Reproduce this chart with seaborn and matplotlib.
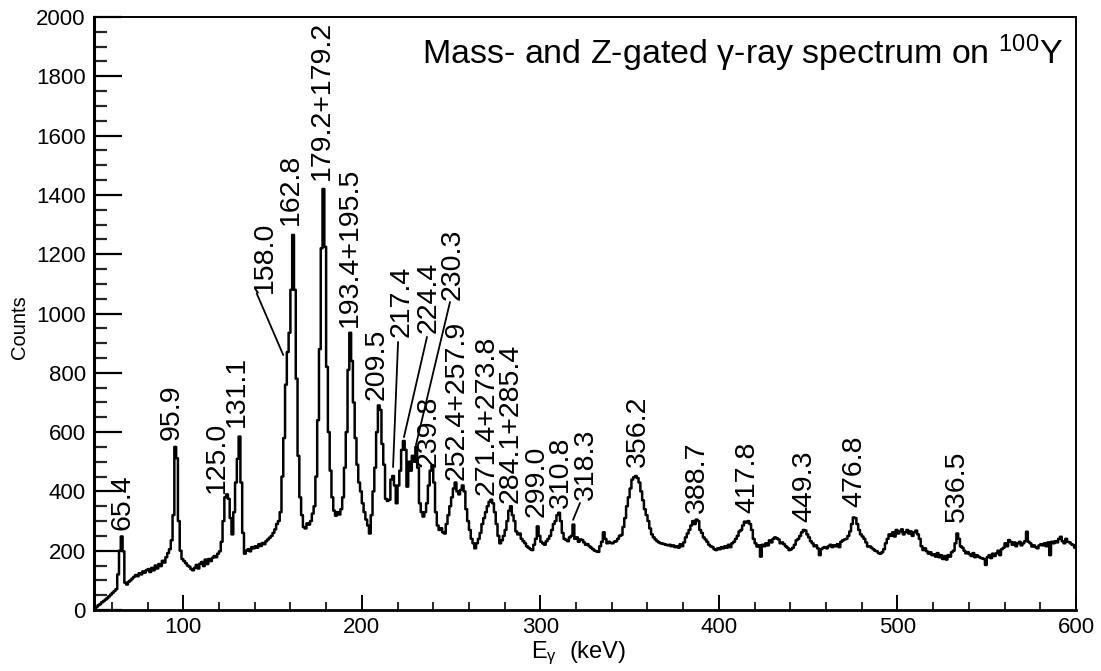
import numpy as np
import pandas as pd
import matplotlib
matplotlib.use("Agg")
import matplotlib.pyplot as plt
import seaborn as sns
from matplotlib.ticker import MultipleLocator

# ---------------- data (1 keV bins starting at 50 keV) ----------------
E_START = 50.0
BIN_WIDTH = 1.0
counts = [
    4, 10, 16, 20, 26, 30, 35, 40, 46, 52,            # 50
    58, 64, 70, 120, 200, 248, 198, 92, 86, 95,       # 60
    100, 106, 112, 118, 114, 124, 120, 130, 126, 134, # 70
    138, 128, 142, 134, 150, 140, 155, 148, 166, 160, # 80
    178, 192, 205, 235, 320, 550, 512, 300, 200, 172, # 90
    165, 158, 150, 146, 138, 134, 142, 152, 140, 156, # 100
    162, 148, 170, 155, 172, 165, 176, 182, 178, 190, # 110
    198, 230, 300, 380, 390, 375, 310, 255, 330, 430, # 120
    510, 585, 430, 260, 190, 200, 205, 198, 212, 208, # 130
    215, 210, 222, 216, 226, 222, 232, 238, 244, 250, # 140
    260, 272, 290, 300, 330, 450, 580, 760, 870, 935, # 150
    1080, 1265, 1080, 780, 520, 380, 320, 280, 275, 292,  # 160
    288, 300, 325, 350, 450, 640, 880, 1220, 1420, 1225,  # 170
    820, 600, 470, 380, 335, 318, 330, 322, 340, 380, # 180
    480, 600, 810, 935, 840, 700, 580, 490, 430, 400, # 190
    360, 330, 305, 285, 258, 320, 400, 480, 600, 690, # 200
    675, 560, 490, 375, 368, 372, 440, 452, 420, 360, # 210
    420, 470, 540, 570, 540, 416, 500, 470, 520, 500, # 220
    550, 480, 360, 330, 315, 330, 360, 420, 470, 488, # 230
    430, 330, 285, 270, 276, 262, 258, 290, 320, 350, # 240
    380, 410, 430, 400, 390, 405, 420, 400, 340, 300, # 250
    270, 240, 225, 208, 225, 240, 260, 290, 310, 330, # 260
    350, 365, 372, 360, 330, 290, 250, 225, 235, 250, # 270
    270, 300, 335, 350, 320, 300, 265, 255, 258, 240, # 280
    232, 225, 215, 210, 205, 202, 220, 240, 282, 250, # 290
    230, 225, 220, 232, 240, 250, 270, 290, 300, 320, # 300
    328, 300, 260, 240, 236, 232, 245, 250, 288, 240, # 310
    245, 230, 238, 236, 228, 220, 222, 215, 210, 205, # 320
    200, 198, 196, 215, 230, 262, 240, 225, 230, 226, # 330
    225, 230, 232, 240, 250, 253, 280, 310, 350, 380, # 340
    410, 440, 448, 452, 445, 430, 400, 370, 340, 320, # 350
    300, 275, 255, 245, 238, 232, 228, 225, 224, 222, # 360
    220, 218, 220, 215, 218, 212, 215, 210, 222, 215, # 370
    228, 245, 258, 270, 285, 300, 290, 305, 300, 270, # 380
    260, 245, 238, 230, 220, 215, 212, 205, 202, 208, # 390
    205, 212, 208, 215, 210, 220, 212, 225, 230, 240, # 400
    250, 265, 270, 285, 298, 295, 300, 290, 270, 240, # 410
    225, 214, 218, 180, 220, 215, 225, 218, 235, 228, # 420
    240, 245, 242, 238, 225, 228, 222, 215, 210, 202, # 430
    205, 210, 220, 235, 240, 250, 262, 270, 268, 255, # 440
    245, 232, 225, 215, 218, 208, 185, 205, 210, 212, # 450
    208, 215, 220, 212, 218, 215, 222, 212, 230, 235, # 460
    238, 240, 250, 265, 290, 312, 310, 290, 270, 255, # 470
    248, 240, 228, 214, 215, 210, 205, 200, 198, 192, # 480
    190, 195, 205, 225, 240, 255, 250, 262, 248, 270, # 490
    258, 265, 272, 255, 262, 270, 258, 265, 250, 262, # 500
    268, 255, 240, 215, 202, 208, 198, 190, 195, 185, # 510
    188, 180, 192, 178, 185, 172, 182, 170, 185, 180, # 520
    195, 200, 225, 258, 240, 215, 210, 200, 191, 195, # 530
    188, 182, 192, 178, 185, 180, 176, 174, 172, 152, # 540
    178, 185, 175, 190, 182, 191, 200, 185, 205, 210, # 550
    225, 215, 236, 230, 220, 228, 215, 225, 230, 218, # 560
    225, 232, 264, 230, 225, 214, 218, 212, 208, 218, # 570
    222, 218, 225, 215, 228, 185, 230, 225, 232, 228, # 580
    240, 247, 232, 225, 240, 230, 228, 222, 219, 210, # 590
]

# peak labels: text, energy of label centre, count at label bottom
label_texts = ["65.4", "95.9", "125.0", "131.1", "158.0", "162.8",
               "179.2+179.2", "193.4+195.5", "209.5", "217.4", "224.4",
               "230.3", "239.8", "252.4+257.9", "271.4+273.8",
               "284.1+285.4", "299.0", "310.8", "318.3", "356.2",
               "388.7", "417.8", "449.3", "476.8", "536.5"]
label_x = [66.0, 93.5, 118.7, 130.1, 145.8, 160.3,
           177.7, 193.5, 208.5, 222.5, 237.6,
           250.8, 237.6, 252.9, 270.1,
           283.5, 298.1, 311.5, 325.6, 354.7,
           387.7, 415.7, 447.6, 475.6, 533.3]
label_y = [270, 573, 395, 617, 1069, 1298,
           1450, 955, 708, 920, 934,
           1045, 482, 438, 388,
           361, 314, 344, 371, 482,
           327, 327, 297, 347, 297]

# leader lines: (start energy, start count) -> (end energy, end count)
leader_from_x = [141.1, 220.3, 236.5, 249.4, 322.2]
leader_from_y = [1068, 904, 921, 1039, 361]
leader_to_x = [156.0, 217.5, 223.6, 230.3, 318.3]
leader_to_y = [860, 482, 583, 556, 304]

title = "Mass- and Z-gated γ-ray spectrum on $^{100}$Y"

# ---------------- styling ----------------
sns.set_theme(style="ticks")
plt.rcParams["font.family"] = ["Liberation Sans", "DejaVu Sans"]
plt.rcParams["mathtext.fontset"] = "custom"
plt.rcParams["mathtext.rm"] = "Liberation Sans"
plt.rcParams["mathtext.it"] = "Liberation Sans"
plt.rcParams["mathtext.bf"] = "Liberation Sans:bold"

W, H = 1101, 671
fig = plt.figure(figsize=(W / 100, H / 100), dpi=100)
fig.patch.set_facecolor("white")
ax = fig.add_axes([94 / W, 1 - 610 / H, (1076 - 94) / W, (610 - 17) / H])
ax.set_facecolor("white")

centers = E_START + BIN_WIDTH * (np.arange(len(counts)) + 0.5)
df = pd.DataFrame({"E": centers, "counts": counts})
sns.histplot(data=df, x="E", weights="counts", binwidth=BIN_WIDTH,
             binrange=(E_START, E_START + BIN_WIDTH * len(counts)),
             element="step", fill=False, color="black", linewidth=1.8, ax=ax)

ax.set_xlim(50, 600)
ax.set_ylim(0, 2000)

ax.xaxis.set_major_locator(MultipleLocator(100))
ax.xaxis.set_minor_locator(MultipleLocator(20))
ax.yaxis.set_major_locator(MultipleLocator(200))
ax.yaxis.set_minor_locator(MultipleLocator(50))
ax.tick_params(axis="y", which="major", direction="in", length=20, width=1.6,
               labelsize=16, pad=6, colors="black")
ax.tick_params(axis="y", which="minor", direction="in", length=9.5, width=1.6)
ax.tick_params(axis="x", which="major", direction="in", length=11, width=1.4,
               labelsize=16, pad=5, colors="black")
ax.tick_params(axis="x", which="minor", direction="in", length=6, width=1.4)
ax.tick_params(which="both", top=False, right=False)

for side, lw in [("left", 2.2), ("bottom", 2.0), ("top", 1.4), ("right", 1.4)]:
    ax.spines[side].set_visible(True)
    ax.spines[side].set_linewidth(lw)
    ax.spines[side].set_color("black")

ax.set_ylabel("Counts", fontsize=14.5, color="black")
ax.yaxis.set_label_coords(-0.066, 0.477)
ax.set_xlabel("E$_{\\gamma}$  (keV)", fontsize=17, color="black")
ax.xaxis.set_label_coords(0.4934, -0.050)

ax.text(0.9868, 0.9207, title, transform=ax.transAxes, ha="right",
        va="baseline", fontsize=24.5, color="black")

for t, x, y in zip(label_texts, label_x, label_y):
    ax.text(x, y, t, rotation=90, ha="center", va="bottom", fontsize=20.5,
            color="black")

for x0, y0, x1, y1 in zip(leader_from_x, leader_from_y, leader_to_x, leader_to_y):
    ax.annotate("", xy=(x1, y1), xytext=(x0, y0),
                arrowprops=dict(arrowstyle="-", color="black", lw=1.3,
                                shrinkA=0, shrinkB=0))

fig.savefig("out.png", dpi=100, facecolor="white")
